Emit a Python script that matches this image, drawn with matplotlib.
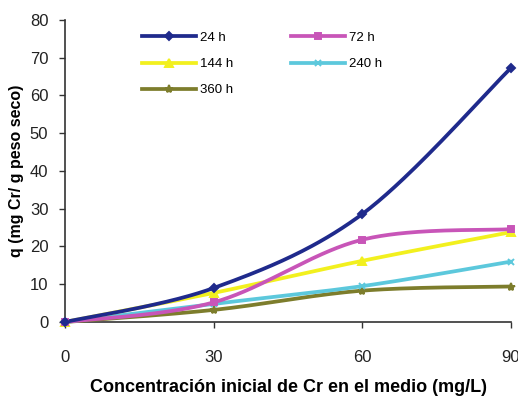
import numpy as np
import matplotlib
matplotlib.use("Agg")
import matplotlib.pyplot as plt
from matplotlib.lines import Line2D

plt.rcParams['font.family'] = ['Liberation Sans', 'DejaVu Sans']

# Initial Cr concentration in the medium (mg/L)
concentracion = [0, 30, 60, 90]
x_ticks = [0, 30, 60, 90]
y_ticks = [0, 10, 20, 30, 40, 50, 60, 70, 80]

# Uptake q (mg Cr / g dry weight) for each exposure time
series_labels = ["24 h", "72 h", "144 h", "240 h", "360 h"]
q_24h = [0, 9.0, 28.6, 67.3]
q_72h = [0, 5.2, 21.8, 24.6]
q_144h = [0, 7.7, 16.2, 23.8]
q_240h = [0, 4.8, 9.5, 16.0]
q_360h = [0, 3.2, 8.3, 9.4]
series_values = [q_24h, q_72h, q_144h, q_240h, q_360h]

colors = ["#1f2a8c", "#c855b8", "#f2f01e", "#5cc8dc", "#7d7d2c"]
markers = ["D", "s", "^", "x", "*"]
msizes = [4.5, 5, 6, 5, 6]


def smooth_curve(x, y, xr, yr, n=60):
    """Bezier smoothing with Catmull-Rom style tangents in normalized space."""
    p = np.column_stack([np.asarray(x, float) / xr, np.asarray(y, float) / yr])
    out = []
    for i in range(len(p) - 1):
        p0 = p[i - 1] if i > 0 else p[i]
        p1 = p[i]
        p2 = p[i + 1]
        p3 = p[i + 2] if i + 2 < len(p) else p[i + 1]
        c1 = p1 + (p2 - p0) / 6.0
        c2 = p2 - (p3 - p1) / 6.0
        t = np.linspace(0, 1, n)[:, None]
        seg = ((1 - t) ** 3) * p1 + 3 * ((1 - t) ** 2) * t * c1 \
            + 3 * (1 - t) * t ** 2 * c2 + t ** 3 * p2
        out.append(seg if i == 0 else seg[1:])
    pts = np.vstack(out)
    return pts[:, 0] * xr, pts[:, 1] * yr


fig = plt.figure(figsize=(5.18, 3.99), dpi=100)
ax = fig.add_axes([0.1255, 0.193, 0.861, 0.757])

# draw in reverse so the 24 h line ends on top
for vals, c, m, ms in reversed(list(zip(series_values, colors, markers, msizes))):
    xs, ys = smooth_curve(concentracion, vals, 90 * 1.47, 80)
    ax.plot(xs, ys, color=c, lw=2.7, solid_capstyle='round', zorder=3, clip_on=False)
    ax.plot(concentracion, vals, linestyle='none', marker=m, color=c,
            markersize=ms, markeredgewidth=1.4, zorder=4, clip_on=False)

handles = {}
for lab, c, m, ms in zip(series_labels, colors, markers, msizes):
    handles[lab] = Line2D([0], [0], color=c, lw=2.7, marker=m, markersize=ms,
                          markeredgewidth=1.4, label=lab)
# legend columns fill top to bottom: rows read 24/72, 144/240, 360
legend_order = ["24 h", "144 h", "360 h", "72 h", "240 h"]

ax.set_xlim(0, 90)
ax.set_ylim(0, 80)
ax.set_xticks(x_ticks)
ax.set_yticks(y_ticks)
ax.tick_params(axis='both', labelsize=12, length=4, width=1, colors='#333333',
               labelcolor='#222222', direction='out')
ax.tick_params(axis='x', pad=16)
ax.tick_params(axis='y', pad=8)
for s in ['top', 'right']:
    ax.spines[s].set_visible(False)
for s in ['left', 'bottom']:
    ax.spines[s].set_color('#333333')
    ax.spines[s].set_linewidth(1.2)

ax.set_xlabel("Concentración inicial de Cr en el medio (mg/L)", fontsize=13,
              fontweight='bold', labelpad=10)
ax.set_ylabel("q (mg Cr/ g peso seco)", fontsize=11.5, fontweight='bold', labelpad=4)

ax.legend(handles=[handles[k] for k in legend_order], ncol=2, loc='upper left',
          bbox_to_anchor=(0.145, 1.0), frameon=False, fontsize=9.5,
          handlelength=4.1, columnspacing=4.4, labelspacing=1.05,
          handletextpad=0.3)

fig.savefig("out.png", dpi=100)
